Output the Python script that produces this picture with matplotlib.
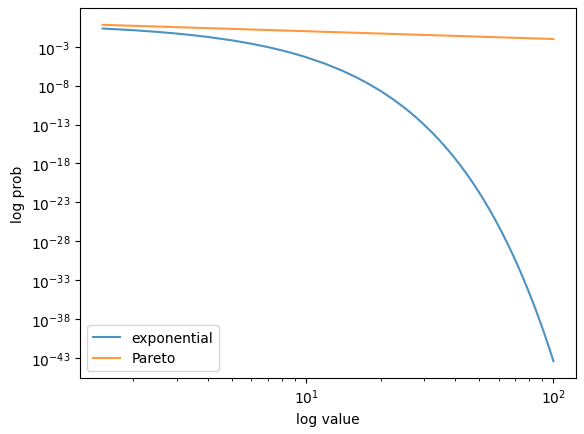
import matplotlib
matplotlib.use('Agg')
import matplotlib.pyplot as plt
from matplotlib.ticker import NullLocator

# values (log-log axes)
exp_x = [1.5, 2, 2.5, 3, 3.5, 4, 5, 6, 7, 8, 9, 10, 12, 14, 16, 18, 20,
         22.5, 25, 27.5, 30, 32.5, 35, 37.5, 40, 42.5, 45, 47.5, 50, 52.5,
         55, 57.5, 60, 62.5, 65, 67.5, 70, 72.5, 75, 77.5, 80, 82.5, 85,
         87.5, 90, 92.5, 95, 97.5, 100]
exp_y = [0.223, 0.135, 0.082, 0.0498, 0.0302, 0.0183, 6.74e-3, 2.48e-3,
         9.1e-4, 3.35e-4, 1.23e-4, 4.54e-5, 6.14e-6, 8.3e-7, 1.13e-7,
         1.52e-8, 2.06e-9, 1.69e-10, 1.39e-11, 1.14e-12, 9.36e-14, 7.7e-15,
         6.3e-16, 5.2e-17, 4.25e-18, 3.5e-19, 2.86e-20, 2.35e-21, 1.93e-22,
         1.58e-23, 1.30e-24, 1.07e-25, 8.76e-27, 7.2e-28, 5.9e-29, 4.85e-30,
         3.98e-31, 3.27e-32, 2.68e-33, 2.2e-34, 1.80e-35, 1.48e-36, 1.22e-37,
         1.0e-38, 8.2e-40, 6.7e-41, 5.5e-42, 4.5e-43, 3.7e-44]

pareto_x = [1.5, 3, 10, 30, 100]
pareto_y = [0.667, 0.333, 0.1, 0.0333, 0.01]

ytick_vals = [1e-43, 1e-38, 1e-33, 1e-28, 1e-23, 1e-18, 1e-13, 1e-8, 1e-3]

fig = plt.figure(figsize=(5.84, 4.35), dpi=100)
ax = fig.add_axes([80 / 584, 1 - 379 / 435, 496 / 584, 370 / 435])

ax.loglog(exp_x, exp_y, label='exponential', alpha=0.8)
ax.loglog(pareto_x, pareto_y, label='Pareto', alpha=0.8)
ax.set_yticks(ytick_vals)
ax.yaxis.set_minor_locator(NullLocator())
ax.set_xlabel('log value')
ax.set_ylabel('log prob')
ax.legend(loc='lower left')

fig.savefig('out.png', dpi=100)
